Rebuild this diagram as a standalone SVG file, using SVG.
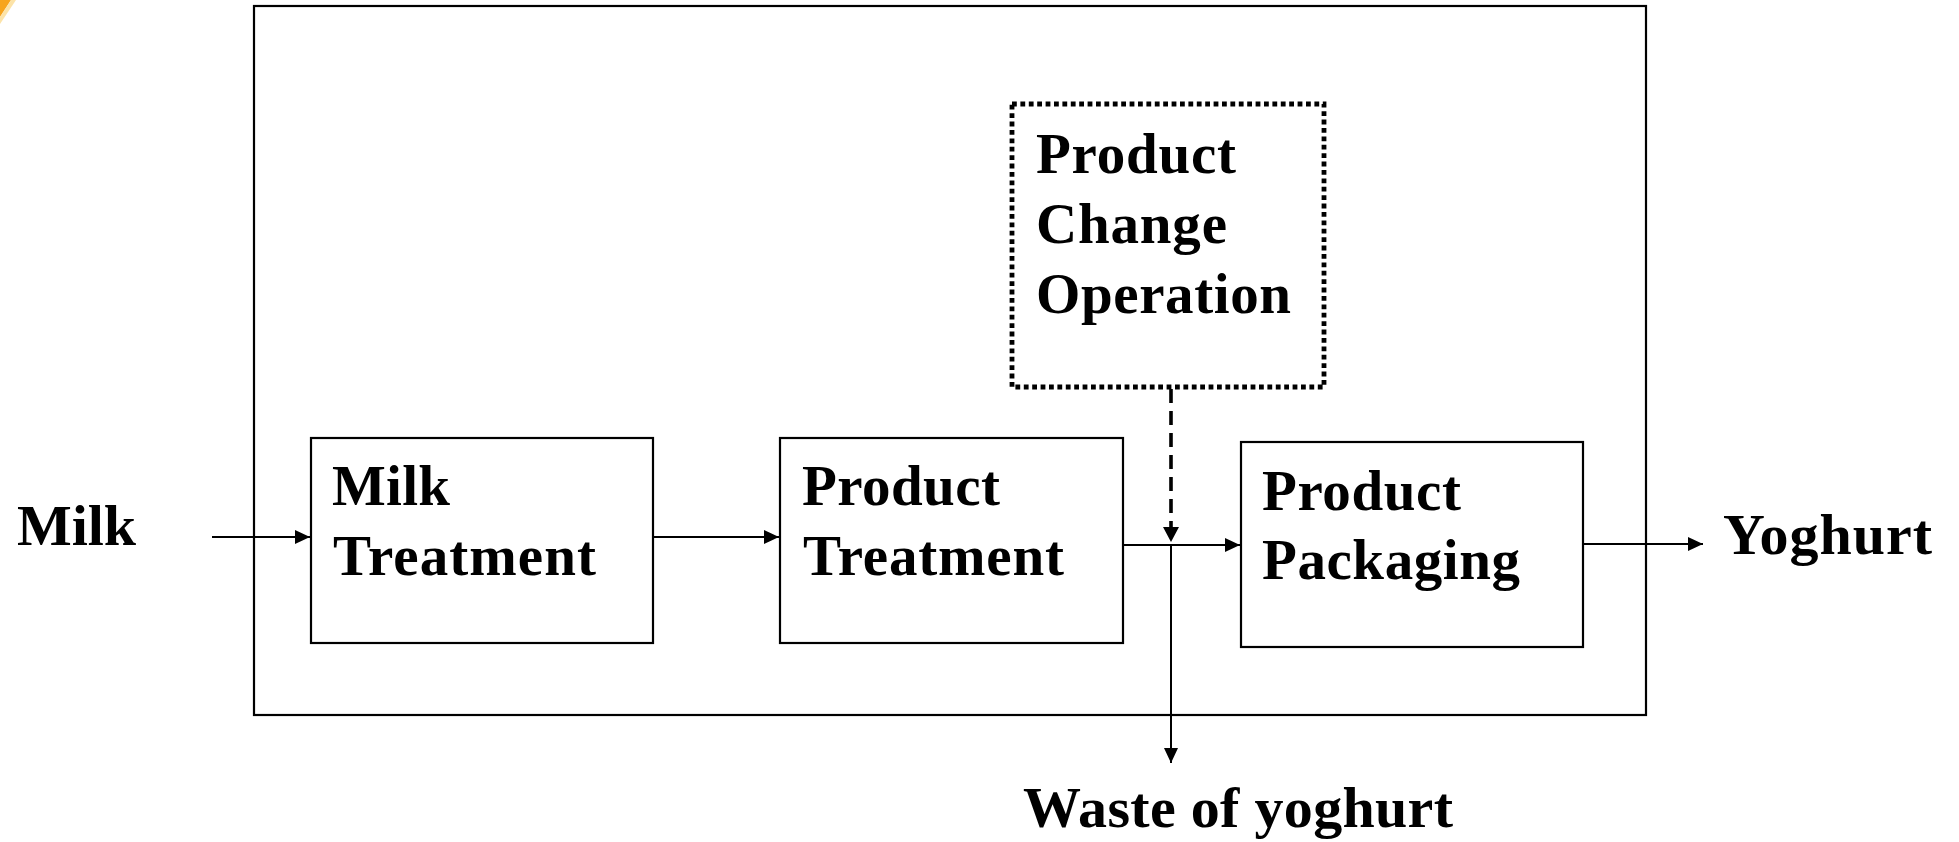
<svg xmlns="http://www.w3.org/2000/svg" width="1959" height="842" viewBox="0 0 1959 842">
<style>
.box{fill:#fff;stroke:#000;stroke-width:2.2}
.dot{fill:#fff;stroke:#000;stroke-width:4.8;stroke-dasharray:4.8 3.6}
.t{font-family:"Liberation Serif","Times New Roman",serif;font-weight:bold;font-size:57px;fill:#000}
.lbl{font-family:"Liberation Serif","Times New Roman",serif;font-weight:bold;font-size:58px;fill:#000}
.c{stroke:#000;stroke-width:2;fill:none}
.dash{stroke:#000;stroke-width:3.6;fill:none;stroke-dasharray:14 8}
</style>
<defs>
<marker id="ah" markerUnits="userSpaceOnUse" markerWidth="16" markerHeight="16" refX="15" refY="7" orient="auto">
<path d="M0,0 L15,7 L0,14 z" fill="#000"/>
</marker>
<marker id="ahd" markerUnits="userSpaceOnUse" markerWidth="18" markerHeight="18" refX="15" refY="8" orient="auto">
<path d="M0,0 L15,8 L0,16 z" fill="#000"/>
</marker>
</defs>
<rect width="1959" height="842" fill="#fff"/>
<polygon points="0,0 11,0 0,17" fill="#F7A51E"/>
<polygon points="11,0 16,0 0,24 0,17" fill="#FCE3A8"/>
<g id="system">
<rect x="254" y="6" width="1392" height="709" fill="none" stroke="#000" stroke-width="2.2"/>
</g>
<g id="connectors">
<line class="c" x1="212" y1="537" x2="310" y2="537" marker-end="url(#ah)"/>
<line class="c" x1="651" y1="537" x2="779" y2="537" marker-end="url(#ah)"/>
<line class="c" x1="1118" y1="545" x2="1240" y2="545" marker-end="url(#ah)"/>
<line class="dash" x1="1171" y1="389" x2="1171" y2="542" marker-end="url(#ahd)"/>
<line class="c" x1="1171" y1="545" x2="1171" y2="763" marker-end="url(#ah)"/>
<line class="c" x1="1579" y1="544" x2="1703" y2="544" marker-end="url(#ah)"/>
</g>
<g id="milk-treatment">
<rect class="box" x="311" y="438" width="342" height="205"/>
<text class="t" x="332" y="505" textLength="118">Milk</text>
<text class="t" x="333" y="575" textLength="263">Treatment</text>
</g>
<g id="product-treatment">
<rect class="box" x="780" y="438" width="343" height="205"/>
<text class="t" x="802" y="505" textLength="198">Product</text>
<text class="t" x="803" y="575" textLength="261">Treatment</text>
</g>
<g id="product-packaging">
<rect class="box" x="1241" y="442" width="342" height="205"/>
<text class="t" x="1262" y="510" textLength="199">Product</text>
<text class="t" x="1262" y="579" textLength="258">Packaging</text>
</g>
<g id="product-change-operation">
<rect class="dot" x="1012" y="104" width="312" height="283"/>
<text class="t" x="1036" y="173" textLength="200">Product</text>
<text class="t" x="1036" y="243" textLength="191">Change</text>
<text class="t" x="1036" y="313" textLength="255">Operation</text>
</g>
<g id="milk">
<text class="lbl" x="17" y="545" textLength="119">Milk</text>
</g>
<g id="yoghurt">
<text class="lbl" x="1723" y="554" textLength="209">Yoghurt</text>
</g>
<g id="waste">
<text class="lbl" x="1023" y="827" textLength="430">Waste of yoghurt</text>
</g>
</svg>
